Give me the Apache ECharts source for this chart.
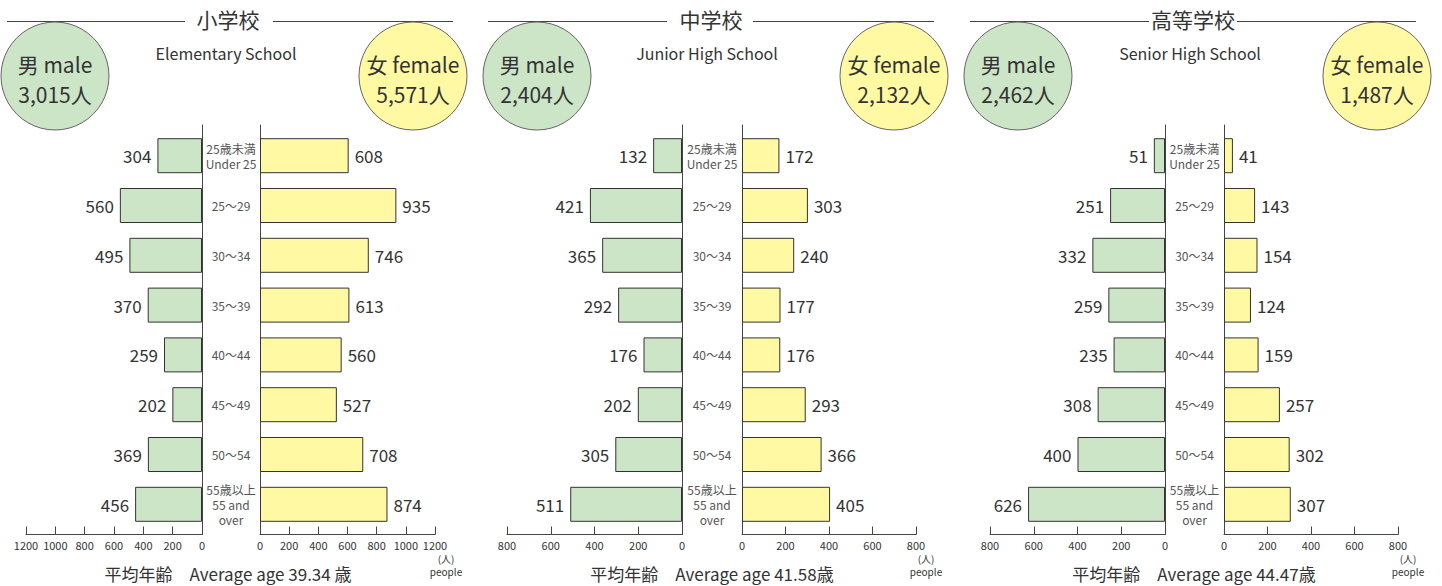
<!DOCTYPE html>
<html><head><meta charset="utf-8">
<script src="https://cdn.jsdelivr.net/npm/echarts@6/dist/echarts.min.js"></script>
<style>html,body{margin:0;padding:0;background:#fff}#c{width:1442px;height:586px}</style>
</head><body><div id="c"></div>
<script>
// ---- data ----
const categories = ['25歳未満\nUnder 25', '25～29', '30～34', '35～39', '40～44', '45～49', '50～54', '55歳以上\n55 and\nover'];
const schoolNamesJa = ['小学校', '中学校', '高等学校'];
const schoolNamesEn = ['Elementary School', 'Junior High School', 'Senior High School'];
const elementaryMale = [304, 560, 495, 370, 259, 202, 369, 456];
const elementaryFemale = [608, 935, 746, 613, 560, 527, 708, 874];
const juniorMale = [132, 421, 365, 292, 176, 202, 305, 511];
const juniorFemale = [172, 303, 240, 177, 176, 293, 366, 405];
const seniorMale = [51, 251, 332, 259, 235, 308, 400, 626];
const seniorFemale = [41, 143, 154, 124, 159, 257, 302, 307];
const maleTotals = ['3,015', '2,404', '2,462'];
const femaleTotals = ['5,571', '2,132', '1,487'];
const averageAgeTexts = ['平均年齢　Average age 39.34 歳', '平均年齢　Average age 41.58歳', '平均年齢　Average age 44.47歳'];
const axisMaxes = [1200, 800, 800];
const axisInterval = 200;

const maleSeries = [elementaryMale, juniorMale, seniorMale];
const femaleSeries = [elementaryFemale, juniorFemale, seniorFemale];

// ---- layout ----
const FONT = '"Noto Sans CJK JP", "Noto Sans", sans-serif';
const TXT = '#333';
const MALE_FILL = '#cbe5c6';
const FEMALE_FILL = '#fff9a3';
const GRID_TOP = 130.8, GRID_H = 398.4, AXIS_TOP = 125, AXIS_BOTTOM = 534.5;
const panels = [
  {lx: 26, lw: 176, rx: 260, rw: 175, titleX: 228, lines: [7, 185, 273, 453], subX: 226, maleC: 55, femC: 413, avgX: 228, unitX: 446},
  {lx: 507, lw: 175, rx: 742, rw: 174, titleX: 711, lines: [488, 667, 753, 934], subX: 707, maleC: 537, femC: 894, avgX: 712, unitX: 926},
  {lx: 990, lw: 175, rx: 1224, rw: 174, titleX: 1193, lines: [970, 1149, 1237, 1416], subX: 1190, maleC: 1018, femC: 1377, avgX: 1194, unitX: 1408}
];

const grid = [], xAxis = [], yAxis = [], series = [], graphic = [];
panels.forEach((p, i) => {
  const max = axisMaxes[i];
  const gL = grid.length;
  grid.push({left: p.lx, width: p.lw, top: GRID_TOP, height: GRID_H});
  grid.push({left: p.rx, width: p.rw, top: GRID_TOP, height: GRID_H});
  grid.push({left: p.lx + p.lw, width: 1, top: AXIS_TOP, height: AXIS_BOTTOM - AXIS_TOP});
  grid.push({left: p.rx, width: 1, top: AXIS_TOP, height: AXIS_BOTTOM - AXIS_TOP});

  const xCommon = {
    type: 'value', min: 0, max: max, interval: axisInterval, position: 'bottom', offset: AXIS_BOTTOM - GRID_TOP - GRID_H,
    axisLine: {show: true, lineStyle: {color: '#444', width: 1}},
    axisTick: {show: true, inside: true, length: 8, lineStyle: {color: '#444'}},
    axisLabel: {color: TXT, fontSize: 11, fontFamily: FONT, margin: 5, formatter: v => String(v)},
    splitLine: {show: false}
  };
  xAxis.push(Object.assign({}, xCommon, {gridIndex: gL, inverse: true}));
  xAxis.push(Object.assign({}, xCommon, {gridIndex: gL + 1}));
  xAxis.push({type: 'value', gridIndex: gL + 2, show: false});
  xAxis.push({type: 'value', gridIndex: gL + 3, show: false});

  yAxis.push({type: 'category', gridIndex: gL, data: categories, inverse: true, position: 'right',
    axisLine: {show: false}, axisTick: {show: false}, axisLabel: {show: false}});
  yAxis.push({type: 'category', gridIndex: gL + 1, data: categories, inverse: true, position: 'left',
    axisLine: {show: false}, axisTick: {show: false},
    axisLabel: {show: true, align: 'center', margin: (p.rx - (p.lx + p.lw)) / 2, color: '#555', fontSize: 12, lineHeight: 15, fontFamily: FONT}});
  const vLine = {type: 'value', min: 0, max: 1, axisLine: {show: true, lineStyle: {color: '#444', width: 1}},
    axisTick: {show: false}, axisLabel: {show: false}, splitLine: {show: false}};
  yAxis.push(Object.assign({gridIndex: gL + 2, position: 'left'}, vLine));
  yAxis.push(Object.assign({gridIndex: gL + 3, position: 'left'}, vLine));

  const barCommon = {type: 'bar', barWidth: 35, silent: true, animation: false};
  series.push(Object.assign({}, barCommon, {
    name: schoolNamesEn[i] + ' male', xAxisIndex: xAxis.length - 4, yAxisIndex: yAxis.length - 4, data: maleSeries[i],
    itemStyle: {color: MALE_FILL, borderColor: '#333', borderWidth: 1},
    label: {show: true, position: 'left', distance: 6, color: TXT, fontSize: 17, fontFamily: FONT}
  }));
  series.push(Object.assign({}, barCommon, {
    name: schoolNamesEn[i] + ' female', xAxisIndex: xAxis.length - 3, yAxisIndex: yAxis.length - 3, data: femaleSeries[i],
    itemStyle: {color: FEMALE_FILL, borderColor: '#333', borderWidth: 1},
    label: {show: true, position: 'right', distance: 6, color: TXT, fontSize: 17, fontFamily: FONT}
  }));

  graphic.push({type: 'line', shape: {x1: p.lines[0], y1: 21.5, x2: p.lines[1], y2: 21.5}, style: {stroke: '#444', lineWidth: 1}});
  graphic.push({type: 'line', shape: {x1: p.lines[2], y1: 21.5, x2: p.lines[3], y2: 21.5}, style: {stroke: '#444', lineWidth: 1}});
  graphic.push({type: 'text', x: p.titleX, y: 19, style: {text: schoolNamesJa[i], fill: TXT, font: '21px ' + FONT, textAlign: 'center', textVerticalAlign: 'middle'}});
  graphic.push({type: 'text', x: p.subX, y: 53, style: {text: schoolNamesEn[i], fill: TXT, font: '16px ' + FONT, textAlign: 'center', textVerticalAlign: 'middle'}});
  graphic.push({type: 'circle', shape: {cx: p.maleC, cy: 76, r: 54}, style: {fill: MALE_FILL, stroke: '#666', lineWidth: 1}});
  graphic.push({type: 'circle', shape: {cx: p.femC, cy: 76, r: 54}, style: {fill: FEMALE_FILL, stroke: '#666', lineWidth: 1}});
  graphic.push({type: 'text', x: p.maleC, y: 63.5, style: {text: '男 male', fill: TXT, font: '21px ' + FONT, textAlign: 'center', textVerticalAlign: 'middle'}});
  graphic.push({type: 'text', x: p.maleC, y: 93.5, style: {text: maleTotals[i] + '人', fill: TXT, font: '21px ' + FONT, textAlign: 'center', textVerticalAlign: 'middle'}});
  graphic.push({type: 'text', x: p.femC, y: 63.5, style: {text: '女 female', fill: TXT, font: '21px ' + FONT, textAlign: 'center', textVerticalAlign: 'middle'}});
  graphic.push({type: 'text', x: p.femC, y: 93.5, style: {text: femaleTotals[i] + '人', fill: TXT, font: '21px ' + FONT, textAlign: 'center', textVerticalAlign: 'middle'}});
  graphic.push({type: 'text', x: p.avgX, y: 573, style: {text: averageAgeTexts[i], fill: TXT, font: '17px ' + FONT, textAlign: 'center', textVerticalAlign: 'middle'}});
  graphic.push({type: 'text', x: p.unitX, y: 558, style: {text: '(人)', fill: TXT, font: '10px ' + FONT, textAlign: 'center', textVerticalAlign: 'middle'}});
  graphic.push({type: 'text', x: p.unitX, y: 571, style: {text: 'people', fill: TXT, font: '10px ' + FONT, textAlign: 'center', textVerticalAlign: 'middle'}});
});

const chart = echarts.init(document.getElementById('c'), null, {renderer: 'svg'});
chart.setOption({
  animation: false,
  backgroundColor: '#fff',
  textStyle: {fontFamily: FONT},
  grid: grid, xAxis: xAxis, yAxis: yAxis, series: series, graphic: graphic
});
</script>
</body></html>
